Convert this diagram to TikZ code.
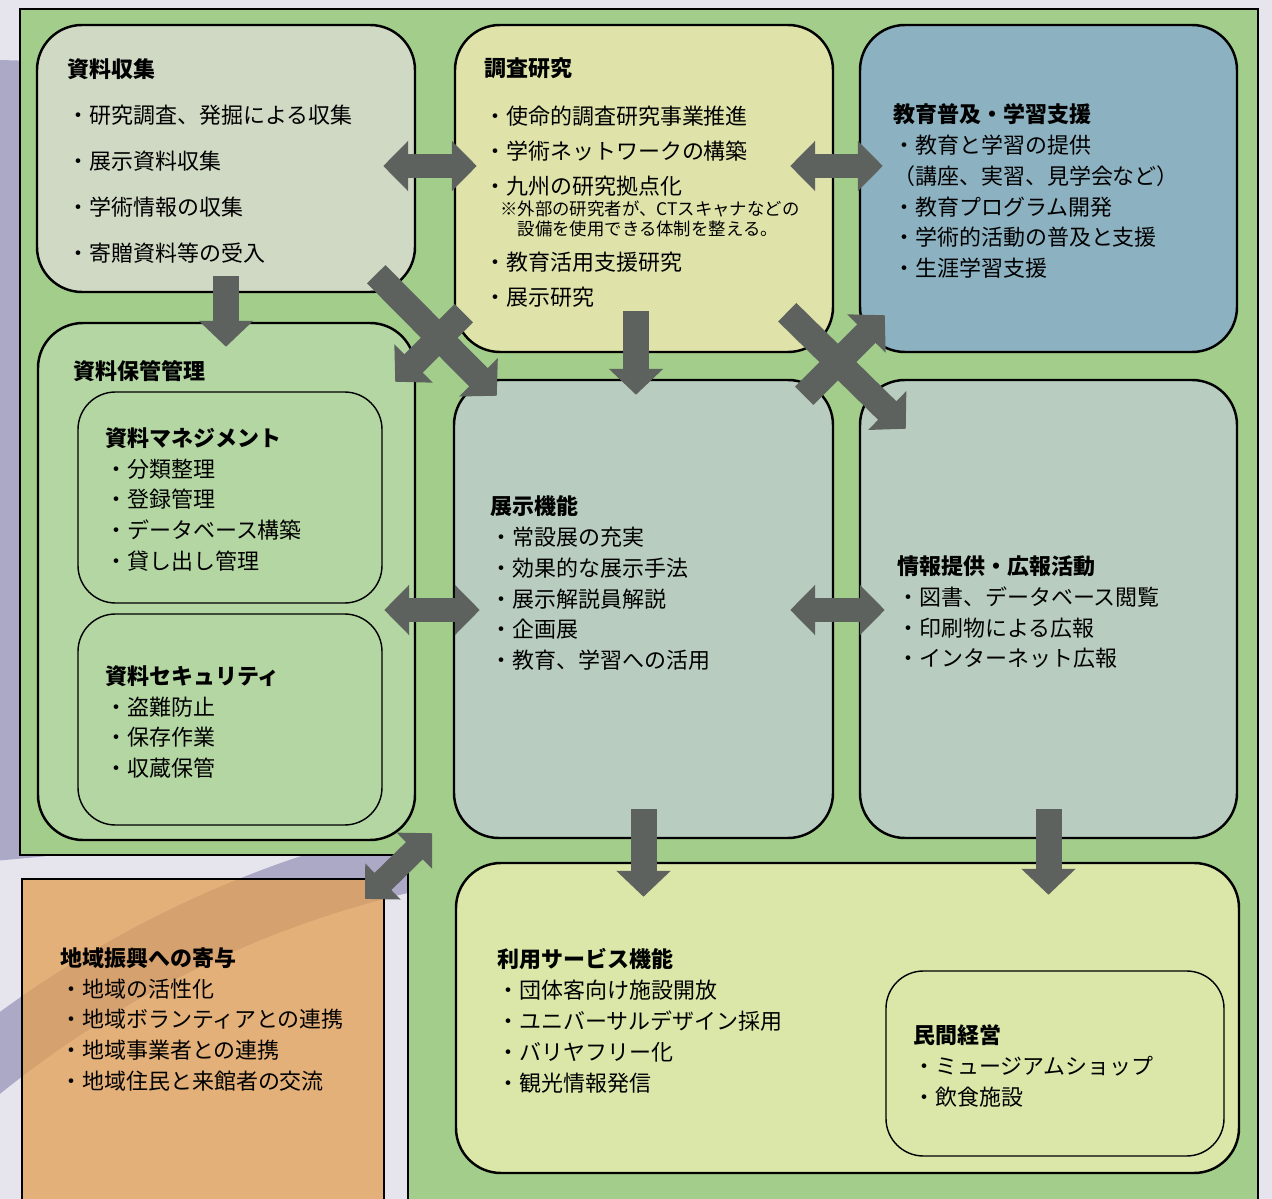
\documentclass[tikz,border=0pt]{standalone}
\usepackage{fontspec}
\setmainfont{Noto Sans CJK JP}
\usetikzlibrary{arrows.meta,fit}

\definecolor{paper}{HTML}{E6E5EE}
\definecolor{lavender}{HTML}{ACA9C6}
\definecolor{greenbg}{HTML}{A3CD8B}
\definecolor{collectfill}{HTML}{CFD9C3}
\definecolor{researchfill}{HTML}{DFE3A9}
\definecolor{edufill}{HTML}{8CB1C0}
\definecolor{storefill}{HTML}{B3D6A2}
\definecolor{showfill}{HTML}{B8CDBF}
\definecolor{servicefill}{HTML}{DAE7A9}
\definecolor{regionfill}{HTML}{E49F53}
\definecolor{arrowgray}{HTML}{5E625F}

\tikzset{
  panel/.style={draw=black, line width=1.4pt, rounded corners=0.9cm, inner sep=0pt},
  subpanel/.style={draw=black, line width=0.8pt, rounded corners=0.75cm, inner sep=0pt},
  txt/.style={anchor=north west, align=left, inner sep=0pt, font=\fontsize{12.5pt}{17.6pt}\selectfont},
  widetxt/.style={txt, font=\fontsize{12.5pt}{26.2pt}\selectfont},
  notetxt/.style={txt, font=\fontsize{9.9pt}{11.4pt}\selectfont},
  fat/.style={draw=arrowgray, line width=0.52cm, -{Triangle[length=0.52cm,width=1.06cm]}},
  fatboth/.style={fat, {Triangle[length=0.5cm,width=0.98cm]}-{Triangle[length=0.5cm,width=0.98cm]}, line width=0.48cm}
}

\begin{document}
\begin{tikzpicture}[x=0.02cm, y=-0.02cm]
  \useasboundingbox (0,0) rectangle (1272,1199);

  % background
  \fill[paper] (0,0) rectangle (1272,1199);
  \draw[lavender, line width=1.6cm] (0,60) .. controls (-10,400) and (-10,700) .. (5,860);
  \begin{scope}
    \clip (0,0) rectangle (420,1199);
    \draw[lavender, line width=1.3cm] (650,1900) circle[radius=1068];
  \end{scope}

  % green frame
  \fill[greenbg] (20,9) -- (1258,9) -- (1258,1215) -- (408,1215) -- (408,855) -- (20,855) -- cycle;
  \draw[line width=1pt] (20,9) -- (1258,9) -- (1258,1215) -- (408,1215) -- (408,855) -- (20,855) -- cycle;

  % boxes
  \node[panel, fill=collectfill, fit={(37,25) (415,292)}] (collect) {};
  \node[panel, fill=researchfill, fit={(455,25) (833,352)}] (research) {};
  \node[panel, fill=edufill, fit={(860,25) (1237,352)}] (education) {};
  \node[panel, fill=storefill, fit={(38,323) (415,840)}] (storage) {};
  \node[subpanel, fit={(78,392) (382,603)}] (manage) {};
  \node[subpanel, fit={(78,614) (382,825)}] (security) {};
  \node[panel, fill=showfill, fit={(454,380) (833,838)}] (exhibit) {};
  \node[panel, fill=showfill, fit={(860,380) (1237,838)}] (info) {};
  \node[panel, fill=servicefill, fit={(456,863) (1239,1173)}] (service) {};
  \node[subpanel, fit={(886,971) (1224,1156)}] (private) {};
  \node[draw=black, line width=1.2pt, fill=regionfill, fill opacity=0.75, inner sep=0pt,
        fit={(22,879) (384,1215)}] (region) {};

  % arrows
  \coordinate (r1) at (0,166);
  \coordinate (r2) at (0,610);
  \draw[fatboth, shorten <=-0.66cm, shorten >=-0.46cm] (collect.east |- r1) -- (research.west |- r1);
  \draw[fatboth, shorten <=-0.88cm, shorten >=-0.48cm] (research.east |- r1) -- (education.west |- r1);
  \draw[fatboth, shorten <=-0.64cm, shorten >=-0.54cm] (storage.east |- r2) -- (exhibit.west |- r2);
  \draw[fatboth, shorten <=-0.88cm, shorten >=-0.52cm] (exhibit.east |- r2) -- (info.west |- r2);

  \draw[fat, shorten <=-0.34cm, shorten >=-0.5cm] (collect.south) -- (collect.south |- storage.north);
  \draw[fat, shorten <=-0.84cm, shorten >=-0.32cm] ([xshift=-0.16cm]research.south) -- ([xshift=-0.16cm]research.south |- exhibit.north);
  \draw[fat, shorten <=-0.6cm, shorten >=-0.7cm] (exhibit.south) -- (exhibit.south |- service.north);
  \draw[fat, shorten <=-0.6cm, shorten >=-0.66cm] (info.south) -- (info.south |- service.north);

  \draw[fat] ([shift={(-40,-19)}]collect.south east) -- ([shift={(44,17)}]exhibit.north west);
  \draw[fat] ([shift={(10,-40)}]research.south west) -- ([shift={(-21,60)}]storage.north east);
  \draw[fat] ([shift={(-47,-41)}]research.south east) -- ([shift={(47,50)}]info.north west);
  \draw[fat] ([shift={(-30,17)}]exhibit.north east) -- ([shift={(26,-38)}]education.south west);
  \draw[fatboth] ([shift={(-20,21)}]region.north east) -- ([shift={(16,-8)}]storage.south east);

  % texts
  \node[widetxt] (collect-t) at (67,58) {\textbf{資料収集}\\・研究調査、発掘による収集\\・展示資料収集\\・学術情報の収集\\・寄贈資料等の受入};
  \node[txt] (research-t) at (484,57) {\textbf{調査研究}\\[9.7pt]・使命的調査研究事業推進\\[2.3pt]・学術ネットワークの構築\\[2.3pt]・九州の研究拠点化};
  \node[notetxt] (research-n) at (500,200) {※外部の研究者が、CTスキャナなどの\\\hspace*{1em}設備を使用できる体制を整える。};
  \node[txt, font=\fontsize{12.5pt}{19.9pt}\selectfont] (research-u) at (484,252) {・教育活用支援研究\\・展示研究};
  \node[txt] (education-t) at (893,103) {\textbf{教育普及・学習支援}\\・教育と学習の提供\\（講座、実習、見学会など）\\・教育プログラム開発\\・学術的活動の普及と支援\\・生涯学習支援};
  \node[txt] (storage-t) at (73,360) {\textbf{資料保管管理}};
  \node[txt] (manage-t) at (105,427) {\textbf{資料マネジメント}\\・分類整理\\・登録管理\\・データベース構築\\・貸し出し管理};
  \node[txt] (security-t) at (105,665) {\textbf{資料セキュリティ}\\・盗難防止\\・保存作業\\・収蔵保管};
  \node[txt] (exhibit-t) at (490,495) {\textbf{展示機能}\\・常設展の充実\\・効果的な展示手法\\・展示解説員解説\\・企画展\\・教育、学習への活用};
  \node[txt] (info-t) at (897,555) {\textbf{情報提供・広報活動}\\・図書、データベース閲覧\\・印刷物による広報\\・インターネット広報};
  \node[txt] (service-t) at (497,948) {\textbf{利用サービス機能}\\・団体客向け施設開放\\・ユニバーサルデザイン採用\\・バリヤフリー化\\・観光情報発信};
  \node[txt] (private-t) at (913,1024) {\textbf{民間経営}\\・ミュージアムショップ\\・飲食施設};
  \node[txt] (region-t) at (60,947) {\textbf{地域振興への寄与}\\・地域の活性化\\・地域ボランティアとの連携\\・地域事業者との連携\\・地域住民と来館者の交流};
\end{tikzpicture}
\end{document}
